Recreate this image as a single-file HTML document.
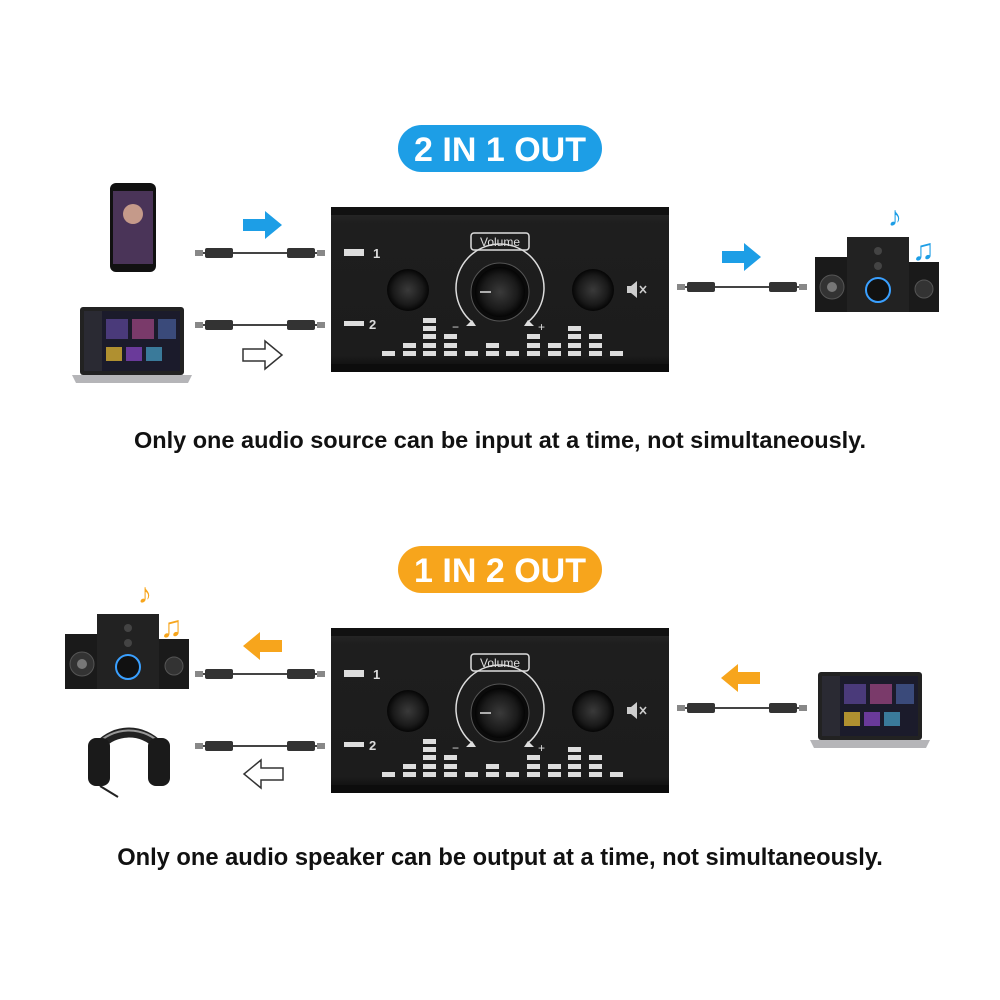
<!DOCTYPE html>
<html><head><meta charset="utf-8"><style>
html,body{margin:0;padding:0;background:#fff}
svg{display:block}
text{font-family:"Liberation Sans",Arial,sans-serif}
</style></head><body>
<svg width="1000" height="1000" viewBox="0 0 1000 1000" xmlns="http://www.w3.org/2000/svg">
<defs>
<radialGradient id="knob" cx="50%" cy="50%" r="50%">
<stop offset="0" stop-color="#3a3a3a"/><stop offset="0.7" stop-color="#1a1a1a"/><stop offset="1" stop-color="#050505"/>
</radialGradient>
<linearGradient id="body" x1="0" y1="0" x2="0" y2="1">
<stop offset="0" stop-color="#2a2a2a"/><stop offset="0.1" stop-color="#1e1e1e"/><stop offset="0.9" stop-color="#1c1c1c"/><stop offset="1" stop-color="#0a0a0a"/>
</linearGradient>
<g id="dev">
<rect x="331" y="207" width="338" height="165" fill="url(#body)"/>
<rect x="331" y="207" width="338" height="8" fill="#111"/>
<rect x="331" y="364" width="338" height="8" fill="#0c0c0c"/>
<rect x="344" y="249" width="20" height="7" fill="#ddd"/>
<rect x="344" y="321" width="20" height="5" fill="#ddd"/>
<rect x="471" y="233" width="58" height="17" rx="3" fill="none" stroke="#ddd" stroke-width="1.5"/>
<path d="M472 322 A44 44 0 1 1 528 322" fill="none" stroke="#ddd" stroke-width="1.5"/>
<path d="M466 326 L476 326 L472 320Z M524 326 L534 326 L528 320Z" fill="#ddd"/>
<circle cx="500" cy="292" r="29" fill="#0a0a0a" stroke="#555" stroke-width="1"/>
<circle cx="500" cy="292" r="25" fill="url(#knob)"/>
<line x1="480" y1="292" x2="491" y2="292" stroke="#ddd" stroke-width="1.5"/>
<circle cx="408" cy="290" r="21" fill="url(#knob)"/>
<circle cx="593" cy="290" r="21" fill="url(#knob)"/>
<path d="M627 286 h4 l6 -5 v17 l-6 -5 h-4z" fill="#ccc"/>
<path d="M640 286 l6 7 M646 286 l-6 7" stroke="#ccc" stroke-width="1.6"/>
<g fill="#ddd">
<rect x="382" y="351" width="13" height="5"/>
<rect x="403" y="351" width="13" height="5"/><rect x="403" y="343" width="13" height="5"/>
<rect x="423" y="351" width="13" height="5"/><rect x="423" y="343" width="13" height="5"/><rect x="423" y="334" width="13" height="5"/><rect x="423" y="326" width="13" height="5"/><rect x="423" y="318" width="13" height="5"/>
<rect x="444" y="351" width="13" height="5"/><rect x="444" y="343" width="13" height="5"/><rect x="444" y="334" width="13" height="5"/>
<rect x="465" y="351" width="13" height="5"/>
<rect x="486" y="351" width="13" height="5"/><rect x="486" y="343" width="13" height="5"/>
<rect x="506" y="351" width="13" height="5"/>
<rect x="527" y="351" width="13" height="5"/><rect x="527" y="343" width="13" height="5"/><rect x="527" y="334" width="13" height="5"/>
<rect x="548" y="351" width="13" height="5"/><rect x="548" y="343" width="13" height="5"/>
<rect x="568" y="351" width="13" height="5"/><rect x="568" y="343" width="13" height="5"/><rect x="568" y="334" width="13" height="5"/><rect x="568" y="326" width="13" height="5"/>
<rect x="589" y="351" width="13" height="5"/><rect x="589" y="343" width="13" height="5"/><rect x="589" y="334" width="13" height="5"/>
<rect x="610" y="351" width="13" height="5"/>
</g>
</g>
<g id="cab">
<line x1="0" y1="0" x2="130" y2="0" stroke="#444" stroke-width="2"/>
<rect x="0" y="-3" width="8" height="6" fill="#888"/>
<rect x="10" y="-5" width="28" height="10" rx="2" fill="#333"/>
<rect x="92" y="-5" width="28" height="10" rx="2" fill="#333"/>
<rect x="122" y="-3" width="8" height="6" fill="#888"/>
</g>
<g id="spk">
<rect x="0" y="20" width="34" height="55" fill="#1a1a1a"/>
<circle cx="17" cy="50" r="12" fill="#333" stroke="#555"/><circle cx="17" cy="50" r="5" fill="#777"/>
<rect x="32" y="0" width="62" height="75" fill="#222"/>
<circle cx="63" cy="14" r="4" fill="#444"/><circle cx="63" cy="29" r="4" fill="#444"/>
<circle cx="63" cy="53" r="12" fill="#111" stroke="#3aa0ff" stroke-width="2"/>
<rect x="94" y="25" width="30" height="50" fill="#1a1a1a"/>
<circle cx="109" cy="52" r="9" fill="#333" stroke="#555"/>
</g>
<g id="lap">
<rect x="8" y="0" width="104" height="68" rx="3" fill="#222"/>
<rect x="12" y="4" width="96" height="60" fill="#1b1b2b"/>
<rect x="12" y="4" width="18" height="60" fill="#2a2a33"/>
<rect x="34" y="12" width="22" height="20" fill="#4a3a7a"/><rect x="60" y="12" width="22" height="20" fill="#7a3a6a"/><rect x="86" y="12" width="18" height="20" fill="#3a4a7a"/>
<rect x="34" y="40" width="16" height="14" fill="#b09030"/><rect x="54" y="40" width="16" height="14" fill="#6a3a9a"/><rect x="74" y="40" width="16" height="14" fill="#3a7a9a"/>
<path d="M0 68 H120 L116 76 H4Z" fill="#b5b5b8"/>
</g>
</defs>

<!-- TOP -->
<rect x="398" y="125" width="204" height="47" rx="23.5" fill="#1d9ee6"/>
<text x="500" y="161" text-anchor="middle" font-size="34" font-weight="bold" fill="#fff">2 IN 1 OUT</text>
<use href="#dev"/>
<text x="500" y="246" text-anchor="middle" font-size="12" fill="#ddd">Volume</text>
<text x="373" y="258" font-size="13" fill="#ddd" font-weight="bold">1</text>
<text x="369" y="329" font-size="13" fill="#ddd" font-weight="bold">2</text>
<text x="452" y="331" font-size="12" fill="#ddd">−</text>
<text x="538" y="331" font-size="12" fill="#ddd">+</text>

<rect x="110" y="183" width="46" height="89" rx="6" fill="#111"/>
<rect x="113" y="191" width="40" height="73" fill="#4a3458"/>
<circle cx="133" cy="214" r="10" fill="#c59a8a"/>
<use href="#lap" transform="translate(72,307)"/>
<use href="#cab" transform="translate(195,253)"/>
<use href="#cab" transform="translate(195,325)"/>
<path d="M243 219 h22 v-8 l17 14 l-17 14 v-8 h-22z" fill="#1d9ee6"/>
<path d="M243 349 h22 v-8 l17 14 l-17 14 v-8 h-22z" fill="#fff" stroke="#333" stroke-width="1.5"/>
<use href="#cab" transform="translate(677,287)"/>
<path d="M722 251 h22 v-8 l17 14 l-17 14 v-8 h-22z" fill="#1d9ee6"/>
<use href="#spk" transform="translate(815,237)"/>
<text x="888" y="226" font-size="28" fill="#1d9ee6">♪</text>
<text x="912" y="260" font-size="30" fill="#1d9ee6">♫</text>
<text x="500" y="448" text-anchor="middle" font-size="23.5" font-weight="bold" fill="#111">Only one audio source can be input at a time, not simultaneously.</text>

<!-- BOTTOM -->
<rect x="398" y="546" width="204" height="47" rx="23.5" fill="#f7a51c"/>
<text x="500" y="582" text-anchor="middle" font-size="34" font-weight="bold" fill="#fff">1 IN 2 OUT</text>
<use href="#dev" transform="translate(0,421)"/>
<text x="500" y="667" text-anchor="middle" font-size="12" fill="#ddd">Volume</text>
<text x="373" y="679" font-size="13" fill="#ddd" font-weight="bold">1</text>
<text x="369" y="750" font-size="13" fill="#ddd" font-weight="bold">2</text>
<text x="452" y="752" font-size="12" fill="#ddd">−</text>
<text x="538" y="752" font-size="12" fill="#ddd">+</text>

<use href="#spk" transform="translate(65,614)"/>
<text x="138" y="603" font-size="28" fill="#f7a51c">♪</text>
<text x="160" y="637" font-size="30" fill="#f7a51c">♫</text>
<path d="M100 745 A42 45 0 0 1 158 745" fill="none" stroke="#222" stroke-width="10"/>
<path d="M96 745 A46 48 0 0 1 162 745" fill="none" stroke="#999" stroke-width="2"/>
<rect x="88" y="738" width="22" height="48" rx="8" fill="#1a1a1a"/>
<rect x="148" y="738" width="22" height="48" rx="8" fill="#1a1a1a"/>
<path d="M100 786 L118 797" stroke="#222" stroke-width="2"/>
<use href="#cab" transform="translate(195,674)"/>
<use href="#cab" transform="translate(195,746)"/>
<path d="M282 640 h-22 v-8 l-17 14 l17 14 v-8 h22z" fill="#f7a51c"/>
<path d="M283 768 h-22 v-8 l-17 14 l17 14 v-8 h22z" fill="#fff" stroke="#333" stroke-width="1.5"/>
<use href="#cab" transform="translate(677,708)"/>
<path d="M760 672 h-22 v-8 l-17 14 l17 14 v-8 h22z" fill="#f7a51c"/>
<use href="#lap" transform="translate(810,672)"/>
<text x="500" y="865" text-anchor="middle" font-size="23.7" font-weight="bold" fill="#111">Only one audio speaker can be output at a time, not simultaneously.</text>
</svg>
</body></html>
